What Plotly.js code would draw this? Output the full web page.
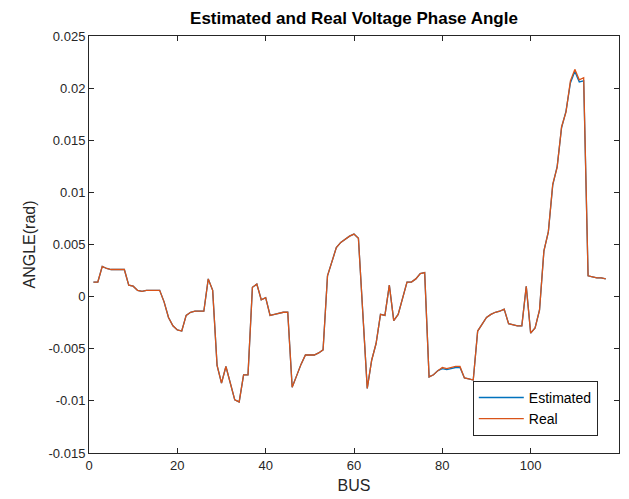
<!DOCTYPE html>
<html>
<head>
<meta charset="utf-8">
<script src="https://cdn.plot.ly/plotly-3.0.1.min.js"></script>
<style>html,body{margin:0;padding:0;background:#fff;}#chart{width:629px;height:499px;}</style>
</head>
<body>
<div id="chart"></div>
<script>
// Real voltage phase angle per bus (rad)
const realAngle = [
  0.0014, 0.0014, 0.0029, 0.0027, 0.0026, 0.0026, 0.0026, 0.0026, 0.0011, 0.0010,
  0.0006, 0.0005, 0.0006, 0.0006, 0.0006, 0.0006, -0.0005, -0.0020, -0.0028, -0.0032,
  -0.0033, -0.0018, -0.0015, -0.0014, -0.0014, -0.0014, 0.0017, 0.0006, -0.0066, -0.0083,
  -0.0067, -0.0083, -0.0099, -0.0101, -0.0075, -0.0075, 0.0009, 0.0012, -0.0003, -0.0001,
  -0.0018, -0.0017, -0.0016, -0.0015, -0.0015, -0.0087, -0.0076, -0.0065, -0.0056, -0.0056,
  -0.0056, -0.0054, -0.0051, 0.0020, 0.0034, 0.0047, 0.0052, 0.0055, 0.0058, 0.0060,
  0.0056, -0.0016, -0.0088, -0.0061, -0.0045, -0.0017, -0.0018, 0.0011, -0.0023, -0.0017,
  -0.0001, 0.0014, 0.0014, 0.0017, 0.0022, 0.0023, -0.0077, -0.0075, -0.0071, -0.0068,
  -0.0069, -0.0068, -0.0067, -0.0067, -0.0078, -0.0079, -0.0080, -0.0033, -0.0026, -0.0020,
  -0.0017, -0.0015, -0.0014, -0.0012, -0.0026, -0.0027, -0.0028, -0.0028, 0.0010, -0.0035,
  -0.0030, -0.0013, 0.0044, 0.0062, 0.0108, 0.0124, 0.0163, 0.0177, 0.0207, 0.0218,
  0.0208, 0.0210, 0.0020, 0.0019, 0.0018, 0.0018, 0.0017
];
// Estimated voltage phase angle per bus (rad)
const estAngle = [
  0.0014, 0.0014, 0.0029, 0.0027, 0.0026, 0.0026, 0.0026, 0.0026, 0.0011, 0.0010,
  0.0006, 0.0005, 0.0006, 0.0006, 0.0006, 0.0006, -0.0005, -0.0020, -0.0028, -0.0032,
  -0.0033, -0.0018, -0.0015, -0.0014, -0.0014, -0.0014, 0.0017, 0.0006, -0.0066, -0.0083,
  -0.0067, -0.0083, -0.0099, -0.0101, -0.0075, -0.0075, 0.0009, 0.0012, -0.0003, -0.0001,
  -0.0018, -0.0017, -0.0016, -0.0015, -0.0015, -0.0087, -0.0076, -0.0065, -0.0056, -0.0056,
  -0.0056, -0.0054, -0.0051, 0.0020, 0.0034, 0.0047, 0.0052, 0.0055, 0.0058, 0.0060,
  0.0056, -0.0016, -0.0088, -0.0061, -0.0045, -0.0017, -0.0018, 0.0011, -0.0023, -0.0017,
  -0.0001, 0.0014, 0.0014, 0.0017, 0.0022, 0.0023, -0.0077, -0.0075, -0.0071, -0.0069,
  -0.0070, -0.0069, -0.0068, -0.0068, -0.0078, -0.0079, -0.0080, -0.0033, -0.0026, -0.0020,
  -0.0017, -0.0015, -0.0014, -0.0012, -0.0026, -0.0027, -0.0028, -0.0028, 0.0010, -0.0035,
  -0.0030, -0.0013, 0.0044, 0.0062, 0.0107, 0.0125, 0.0162, 0.0178, 0.0205, 0.0216,
  0.0206, 0.0207, 0.0020, 0.0019, 0.0018, 0.0018, 0.0017
];
const busNumbers = realAngle.map((_, i) => i + 1);

const xTickVals = [0, 20, 40, 60, 80, 100, 120];
const xTickText = ['0', '20', '40', '60', '80', '100', '120'];
const yTickVals = [0.025, 0.02, 0.015, 0.01, 0.005, 0, -0.005, -0.01, -0.015];
const yTickText = ['0.025', '0.02', '0.015', '0.01', '0.005', '0', '-0.005', '-0.01', '-0.015'];

const seriesNames = ['Estimated', 'Real'];
const seriesColors = ['#0072BD', '#D95319'];

const traces = [
  {x: busNumbers, y: estAngle, type: 'scatter', mode: 'lines', name: seriesNames[0],
   line: {color: seriesColors[0], width: 1.3}},
  {x: busNumbers, y: realAngle, type: 'scatter', mode: 'lines', name: seriesNames[1],
   line: {color: seriesColors[1], width: 1.3}}
];

const axisCommon = {
  showline: true, linecolor: '#262626', linewidth: 1, mirror: 'ticks',
  ticks: 'inside', ticklen: 5, tickwidth: 1, tickcolor: '#262626',
  showgrid: false, zeroline: false,
  tickfont: {family: 'Liberation Sans, Arial, sans-serif', size: 13, color: '#262626'}
};

const layout = {
  width: 629, height: 499,
  paper_bgcolor: '#ffffff', plot_bgcolor: '#ffffff',
  margin: {l: 89, r: 10, t: 36, b: 46},
  font: {family: 'Liberation Sans, Arial, sans-serif', color: '#262626'},
  title: {text: '<b>Estimated and Real Voltage Phase Angle</b>',
          font: {family: 'Liberation Sans, Arial, sans-serif', size: 17, color: '#000'},
          x: 0.5 + (89 - 10) / 2 / 629, xanchor: 'center', y: 1 - 18 / 499, yanchor: 'middle'},
  xaxis: Object.assign({}, axisCommon, {
    range: [0, 120], tickmode: 'array', tickvals: xTickVals, ticktext: xTickText,
    title: {text: 'BUS', font: {size: 16, color: '#262626'}, standoff: 8}
  }),
  yaxis: Object.assign({}, axisCommon, {
    range: [-0.015, 0.025], tickmode: 'array', tickvals: yTickVals, ticktext: yTickText,
    title: {text: 'ANGLE(rad)', font: {size: 16, color: '#262626'}, standoff: 8}
  }),
  showlegend: true,
  legend: {
    x: 0.960, y: 0.041, xanchor: 'right', yanchor: 'bottom',
    bgcolor: '#ffffff', bordercolor: '#262626', borderwidth: 1,
    font: {family: 'Liberation Sans, Arial, sans-serif', size: 14, color: '#000'},
    tracegroupgap: 0, itemwidth: 45
  }
};

Plotly.newPlot('chart', traces, layout, {displayModeBar: false, staticPlot: true});
</script>
</body>
</html>
